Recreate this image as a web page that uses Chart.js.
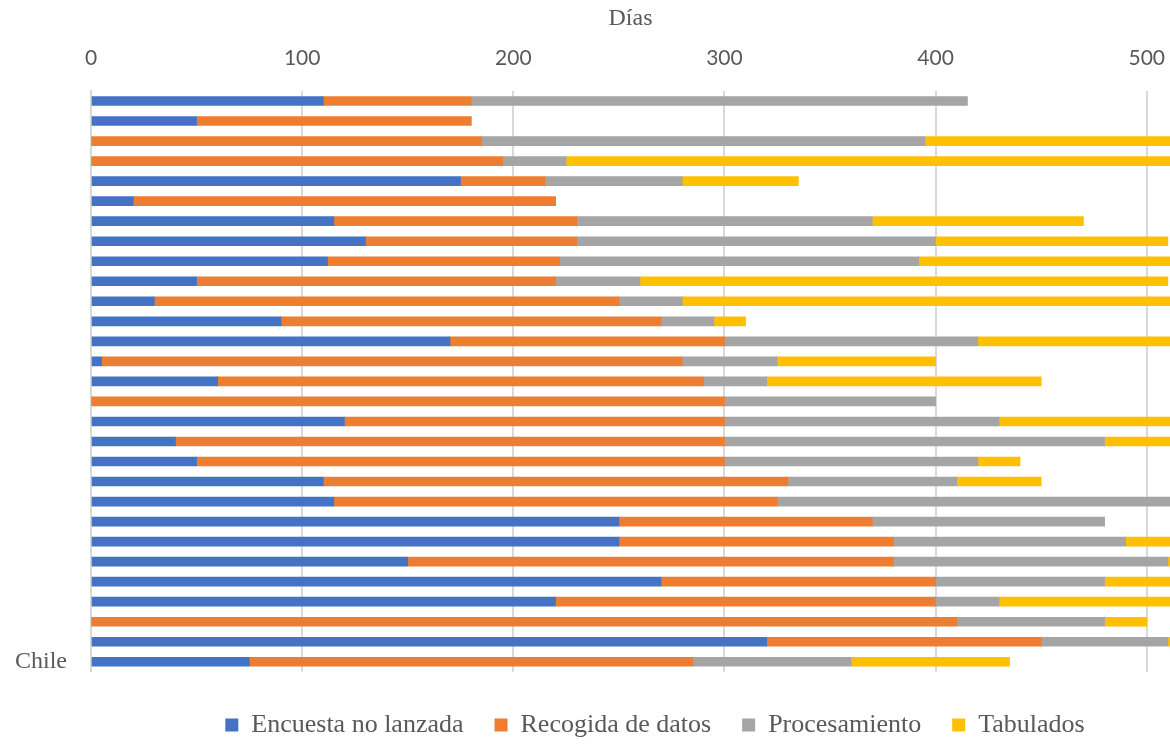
<!DOCTYPE html>
<html lang="es">
<head>
  <meta charset="UTF-8" />
  <title>Días por etapa</title>
  <script src="https://cdn.jsdelivr.net/npm/chart.js"></script>
  <style>
    * { margin: 0; padding: 0; box-sizing: border-box; }
    html, body { width: 1170px; height: 744px; overflow: hidden; background: #fff; }
    .marco { position: relative; width: 1170px; height: 748px; }
  </style>
</head>
<body>
  <div class="marco"><canvas id="grafico"></canvas></div>

  <script>
    // 29 filas, solo la última tiene etiqueta visible
    const paises = ['', '', '', '', '', '', '', '', '', '', '', '', '', '', '',
                    '', '', '', '', '', '', '', '', '', '', '', '', '', 'Chile'];

    // duración (días) de cada etapa
    const noLanzada = [110, 50, 0, 0, 175, 20, 115, 130, 112, 50, 30, 90, 170, 5, 60,
                       0, 120, 40, 50, 110, 115, 250, 250, 150, 270, 220, 0, 320, 75];
    const recogida = [70, 130, 185, 195, 40, 200, 115, 100, 110, 170, 220, 180, 130, 275, 230,
                      300, 180, 260, 250, 220, 210, 120, 130, 230, 130, 180, 410, 130, 210];
    const procesamiento = [235, 0, 210, 30, 65, 0, 140, 170, 170, 40, 30, 25, 120, 45, 30,
                           100, 130, 180, 120, 80, 200, 110, 110, 130, 80, 30, 70, 60, 75];
    const tabulados = [0, 0, 140, 300, 55, 0, 100, 110, 130, 250, 260, 15, 110, 75, 130,
                       0, 110, 60, 20, 40, 0, 0, 40, 5, 60, 90, 20, 5, 75];

    const gris = '#595959';

    // la leyenda del original no está centrada: se corre un poco a la derecha
    const correrLeyenda = {
      id: 'correrLeyenda',
      afterLayout(chart) {
        chart.legend.left += 70;
        chart.legend.right += 70;
      },
    };

    const grafico = new Chart(document.getElementById('grafico'), {
      type: 'bar',
      data: {
        labels: paises,
        datasets: [
          { label: 'Encuesta no lanzada', data: noLanzada, backgroundColor: '#4472C4' },
          { label: 'Recogida de datos', data: recogida, backgroundColor: '#ED7D31' },
          { label: 'Procesamiento', data: procesamiento, backgroundColor: '#A5A5A5' },
          { label: 'Tabulados', data: tabulados, backgroundColor: '#FFC000' },
        ],
      },
      plugins: [correrLeyenda],
      options: {
        indexAxis: 'y',
        responsive: true,
        maintainAspectRatio: false,
        animation: false,
        barThickness: 9,
        layout: { padding: { top: 4, left: 0, right: 0, bottom: 0 } },
        scales: {
          x: {
            position: 'top',
            stacked: true,
            min: 0,
            max: 511,
            afterFit: (escala) => {
              escala.height = 87;
              escala.paddingLeft = 0;
              escala.paddingRight = 0;
            },
            ticks: {
              stepSize: 100,
              includeBounds: false,
              color: gris,
              padding: 20,
              font: { family: 'Lato', size: 21 },
            },
            grid: { color: '#d9d9d9', lineWidth: 2, drawTicks: false },
            border: { display: false },
            title: {
              display: true,
              text: 'Días',
              color: gris,
              padding: { top: 0, bottom: 0 },
              font: { family: 'Liberation Serif', size: 24 },
            },
          },
          y: {
            stacked: true,
            afterFit: (escala) => {
              escala.width = 91;
              escala.paddingTop = 0;
              escala.paddingBottom = 0;
            },
            ticks: {
              color: gris,
              padding: 24,
              autoSkip: false,
              font: { family: 'Liberation Serif', size: 24 },
            },
            grid: { display: false, drawTicks: false },
            border: { display: true, color: '#d9d9d9', width: 2 },
          },
        },
        plugins: {
          legend: {
            position: 'bottom',
            title: { display: true, text: '', padding: { top: 8, bottom: 0 }, font: { size: 1 } },
            labels: {
              color: gris,
              boxWidth: 13,
              boxHeight: 13,
              padding: 31,
              font: { family: 'Liberation Serif', size: 26 },
            },
          },
          tooltip: { enabled: false },
        },
      },
    });
  </script>
</body>
</html>
